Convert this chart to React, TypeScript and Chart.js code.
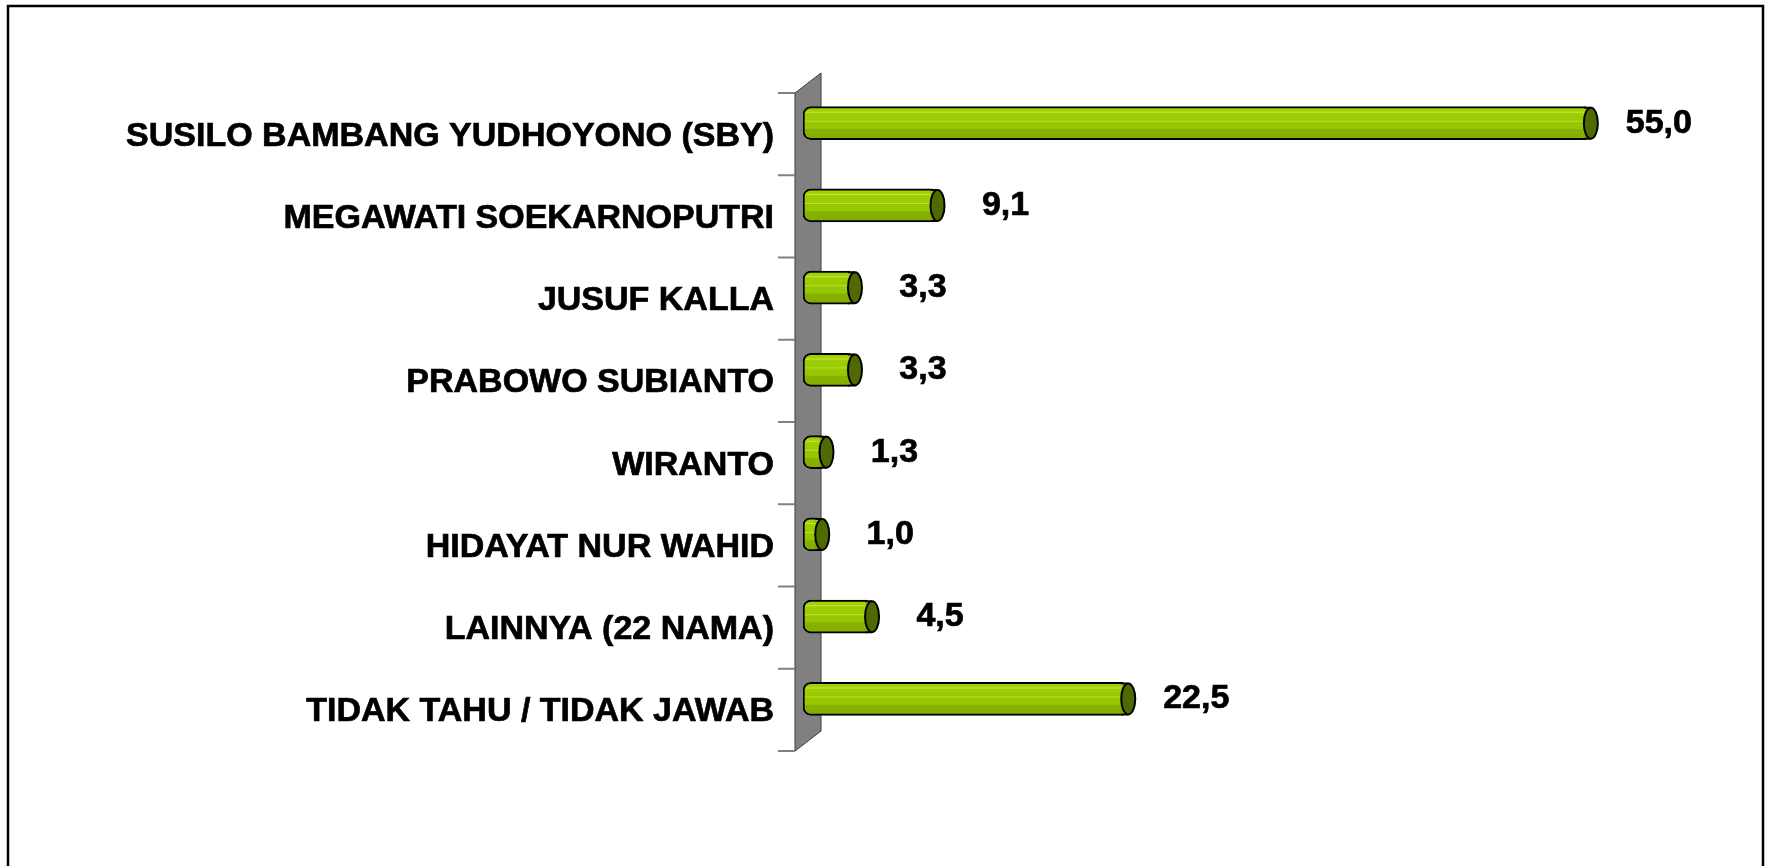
import React, { useEffect, useRef } from "react";
import { Chart, registerables } from "chart.js";

Chart.register(...registerables);

const categories = [
  "SUSILO BAMBANG YUDHOYONO (SBY)",
  "MEGAWATI SOEKARNOPUTRI",
  "JUSUF KALLA",
  "PRABOWO SUBIANTO",
  "WIRANTO",
  "HIDAYAT NUR WAHID",
  "LAINNYA (22 NAMA)",
  "TIDAK TAHU / TIDAK JAWAB",
];
const values = [55.0, 9.1, 3.3, 3.3, 1.3, 1.0, 4.5, 22.5];
const valueLabels = ["55,0", "9,1", "3,3", "3,3", "1,3", "1,0", "4,5", "22,5"];

const FONT = '"Liberation Sans", Arial, sans-serif';

function makeGradient(ctx: CanvasRenderingContext2D, y: number) {
  const t = y - 16;
  const b = y + 16;
  const g = ctx.createLinearGradient(0, t, 0, b);
  g.addColorStop(0, "#a2d200");
  g.addColorStop(0.13, "#a2d200");
  g.addColorStop(0.16, "#c4e35c");
  g.addColorStop(0.19, "#a0cf00");
  g.addColorStop(0.41, "#9acb00");
  g.addColorStop(0.44, "#bcdd48");
  g.addColorStop(0.47, "#98c800");
  g.addColorStop(0.67, "#96c600");
  g.addColorStop(0.7, "#86b100");
  g.addColorStop(1, "#84ae00");
  return g;
}

const decorPlugin = {
  id: "decor",
  beforeDraw(chart: any) {
    const ctx = chart.ctx;
    ctx.save();
    ctx.fillStyle = "#ffffff";
    ctx.fillRect(0, 0, chart.width, chart.height);
    ctx.strokeStyle = "#000000";
    ctx.lineWidth = 2.5;
    ctx.strokeRect(8, 6, 1755, 900);
    ctx.restore();
  },
  beforeDatasetsDraw(chart: any) {
    const ctx = chart.ctx;
    const area = chart.chartArea;
    const y = chart.scales.y;
    const n = categories.length;
    const step = (area.bottom - area.top) / n;
    const fx = area.left - 8;
    const dx = 26;
    const dy = 20;
    const top = area.top + 11;
    const bottom = area.bottom + 11;
    ctx.save();
    ctx.beginPath();
    ctx.moveTo(fx, top);
    ctx.lineTo(fx + dx, top - dy);
    ctx.lineTo(fx + dx, bottom - dy);
    ctx.lineTo(fx, bottom);
    ctx.closePath();
    ctx.fillStyle = "#808080";
    ctx.fill();
    ctx.strokeStyle = "#3a3a3a";
    ctx.lineWidth = 1;
    ctx.stroke();
    ctx.strokeStyle = "#808080";
    ctx.lineWidth = 2;
    for (let i = 0; i <= n; i++) {
      const ty = y.getPixelForValue(0) - step / 2 + i * step + 11;
      ctx.beginPath();
      ctx.moveTo(fx - 17, ty);
      ctx.lineTo(fx, ty);
      ctx.stroke();
    }
    ctx.restore();
  },
  afterDatasetsDraw(chart: any) {
    const ctx = chart.ctx;
    const meta = chart.getDatasetMeta(0);
    ctx.save();
    meta.data.forEach((bar: any, i: number) => {
      const h = bar.height;
      const cx = bar.x + 5;
      const t = bar.y - h / 2 + 1;
      const b = bar.y + h / 2 - 1;
      // body extension up to the cap centre
      ctx.fillStyle = makeGradient(ctx, bar.y);
      ctx.fillRect(bar.x - 2, t, cx - bar.x + 2, b - t);
      ctx.strokeStyle = "#000000";
      ctx.lineWidth = 2;
      ctx.beginPath();
      ctx.moveTo(bar.x - 2, t);
      ctx.lineTo(cx, t);
      ctx.moveTo(bar.x - 2, b);
      ctx.lineTo(cx, b);
      ctx.stroke();
      // end cap
      ctx.beginPath();
      ctx.ellipse(cx, bar.y, 7, (b - t) / 2, 0, 0, Math.PI * 2);
      ctx.fillStyle = "#4f6a00";
      ctx.fill();
      ctx.stroke();
      // value label
      ctx.fillStyle = "#000000";
      ctx.lineWidth = 0.7;
      ctx.font = "bold 34px " + FONT;
      ctx.textAlign = "center";
      ctx.textBaseline = "middle";
      ctx.fillText(valueLabels[i], bar.x + 73, bar.y);
      ctx.strokeText(valueLabels[i], bar.x + 73, bar.y);
    });
    ctx.restore();
  },
};

function barFill(c: any) {
  const chart = c.chart;
  if (!chart.chartArea) return "#99cc00";
  const y = chart.scales.y.getPixelForValue(c.dataIndex);
  return makeGradient(chart.ctx, y);
}

export default function App() {
  const ref = useRef<HTMLCanvasElement>(null);
  useEffect(() => {
    document.body.style.margin = "0";
    document.body.style.overflow = "hidden";
    if (!ref.current) return;
    const chart = new Chart(ref.current, {
      type: "bar",
      data: {
        labels: categories,
        datasets: [
          {
            data: values,
            backgroundColor: barFill as any,
            borderColor: "#000000",
            borderWidth: 2,
            borderSkipped: false,
            borderRadius: { topLeft: 8, bottomLeft: 8, topRight: 0, bottomRight: 0 },
            barThickness: 33,
          },
        ],
      },
      options: {
        indexAxis: "y",
        animation: false,
        responsive: false,
        devicePixelRatio: 1,
        layout: { padding: { left: 0, right: 114, top: 82, bottom: 126 } },
        plugins: {
          legend: { display: false },
          tooltip: { enabled: false },
        },
        scales: {
          x: {
            display: false,
            min: 0,
            max: 60,
          },
          y: {
            grid: { display: false, drawTicks: false },
            border: { display: false },
            afterFit: (s: any) => {
              s.width = 803;
            },
            ticks: {
              padding: 29,
              labelOffset: 13,
              color: "#000000",
              textStrokeColor: "#000000",
              textStrokeWidth: 0.7,
              font: { family: FONT, size: 34, weight: "bold" },
            },
          },
        },
      },
      plugins: [decorPlugin],
    });
    return () => chart.destroy();
  }, []);
  return <canvas ref={ref} width={1771} height={866} style={{ display: "block" }} />;
}
